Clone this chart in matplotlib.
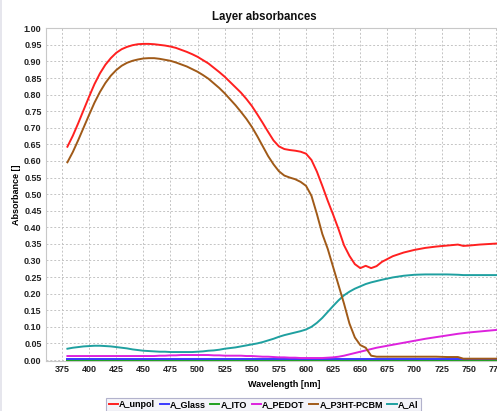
import matplotlib
matplotlib.use("Agg")
import matplotlib.pyplot as plt
from matplotlib.lines import Line2D

# Wavelength grid [nm]
wavelength = [380, 385, 390, 395, 400, 405, 410, 415, 420, 425, 430, 435, 440,
              445, 450, 455, 460, 465, 470, 475, 480, 485, 490, 495, 500, 505,
              510, 515, 520, 525, 530, 535, 540, 545, 550, 555, 560, 565, 570,
              575, 580, 585, 590, 595, 600,
              605, 610, 615, 620, 625, 630, 635, 640, 645, 650, 655, 660, 665, 670,
              680, 690, 700, 710, 720, 730, 740, 745, 750, 760, 770, 780, 790, 800]

a_unpol = [0.643, 0.676, 0.714, 0.754, 0.794, 0.832, 0.864, 0.890, 0.910, 0.926,
           0.937, 0.944, 0.949, 0.952, 0.953, 0.953, 0.952, 0.950, 0.948, 0.945,
           0.941, 0.935, 0.929, 0.922, 0.914, 0.904, 0.894, 0.881, 0.868, 0.854,
           0.838, 0.822, 0.806, 0.787, 0.766, 0.741, 0.715, 0.688, 0.662, 0.644,
           0.636, 0.633, 0.631, 0.628, 0.622,
           0.603, 0.568, 0.525, 0.480, 0.438, 0.394, 0.346, 0.314, 0.289, 0.277,
           0.284, 0.277, 0.283, 0.296,
           0.313, 0.324, 0.332, 0.338, 0.342, 0.345, 0.348, 0.344, 0.345, 0.348,
           0.350, 0.352, 0.353, 0.354]

a_glass = [0.002] * len(wavelength)

a_ito = [0.001] * len(wavelength)

a_pedot = [0.012, 0.012, 0.012, 0.012, 0.012, 0.012, 0.012, 0.012, 0.012, 0.012,
           0.012, 0.012, 0.012, 0.012, 0.012, 0.012, 0.012, 0.013, 0.013, 0.014,
           0.014, 0.015, 0.015, 0.015, 0.015, 0.015, 0.015, 0.014, 0.014, 0.013,
           0.013, 0.013, 0.013, 0.012, 0.012, 0.011, 0.010, 0.010, 0.009, 0.008,
           0.008, 0.007, 0.007, 0.006, 0.006,
           0.006, 0.006, 0.006, 0.007, 0.008, 0.010, 0.013, 0.017, 0.021, 0.025,
           0.029, 0.033, 0.037, 0.040,
           0.046, 0.052, 0.058, 0.064, 0.069, 0.074, 0.079, 0.081, 0.083, 0.086,
           0.089, 0.092, 0.094, 0.096]

a_p3ht_pcbm = [0.596, 0.627, 0.663, 0.701, 0.739, 0.776, 0.808, 0.835, 0.857, 0.874,
               0.887, 0.896, 0.902, 0.906, 0.909, 0.910, 0.910, 0.908, 0.905, 0.902,
               0.897, 0.891, 0.885, 0.877, 0.869, 0.859, 0.848, 0.834, 0.820, 0.804,
               0.786, 0.768, 0.748, 0.727, 0.703, 0.675, 0.645, 0.615, 0.590, 0.569,
               0.556, 0.550, 0.545, 0.537, 0.525,
               0.495, 0.440, 0.380, 0.335, 0.280, 0.225, 0.170, 0.110, 0.068, 0.045,
               0.037, 0.013, 0.010, 0.010,
               0.010, 0.010, 0.010, 0.010, 0.010, 0.009, 0.009, 0.004, 0.004, 0.004,
               0.004, 0.004, 0.004, 0.004]

a_al = [0.034, 0.037, 0.039, 0.041, 0.042, 0.043, 0.043, 0.042, 0.041, 0.039,
        0.037, 0.035, 0.032, 0.030, 0.028, 0.027, 0.026, 0.025, 0.025, 0.024,
        0.024, 0.024, 0.024, 0.024, 0.025, 0.026, 0.028, 0.029, 0.031, 0.034,
        0.036, 0.038, 0.041, 0.044, 0.047, 0.050, 0.054, 0.059, 0.064, 0.070,
        0.075, 0.079, 0.083, 0.087, 0.092,
        0.100, 0.112, 0.127, 0.145, 0.163, 0.180, 0.195, 0.206, 0.215, 0.222,
        0.229, 0.234, 0.238, 0.242,
        0.249, 0.254, 0.257, 0.258, 0.258, 0.258, 0.257, 0.256, 0.256, 0.256,
        0.256, 0.256, 0.256, 0.256]

series_names = ["A_unpol", "A_Glass", "A_ITO", "A_PEDOT", "A_P3HT-PCBM", "A_Al"]
series_values = [a_unpol, a_glass, a_ito, a_pedot, a_p3ht_pcbm, a_al]
series_colors = ["#ff2020", "#3a3aff", "#20a020", "#dd22dd", "#a05a18", "#1fa0a0"]
series_z = [6, 4, 3, 5, 6, 5]

x_ticks = [375, 400, 425, 450, 475, 500, 525, 550, 575, 600, 625, 650, 675,
           700, 725, 750, 775, 800]
y_ticks = [round(0.05 * i, 2) for i in range(21)]

plt.rcParams["font.family"] = ["Liberation Sans", "DejaVu Sans"]

W, H = 497, 411
fig = plt.figure(figsize=(W / 100, H / 100), dpi=100)
fig.patch.set_facecolor("white")

left, right, top, bottom = 45.7, 523.0, 28.3, 361.0
ax = fig.add_axes([left / W, 1 - bottom / H, (right - left) / W, (bottom - top) / H])

for name, vals, col, z in zip(series_names, series_values, series_colors, series_z):
    ax.plot(wavelength, vals, color=col, lw=1.4, label=name, zorder=z,
            solid_joinstyle="round")

ax.set_xlim(360, 800)
ax.set_ylim(-0.003, 1.0)
ax.set_xticks(x_ticks)
ax.set_yticks(y_ticks)
ax.set_yticklabels([f"{v:.2f}" for v in y_ticks])
ax.grid(True, color="#c4c4c4", lw=0.7, linestyle=(0, (2, 2)))
ax.set_axisbelow(True)
for sp in ax.spines.values():
    sp.set_color("#c8c8c8")
    sp.set_linewidth(0.8)
ax.tick_params(length=0, pad=3, labelsize=6.5, colors="#222222")
for lbl in ax.get_xticklabels() + ax.get_yticklabels():
    lbl.set_fontweight("bold")

ax.set_xlabel("Wavelength [nm]", fontsize=6.5, fontweight="bold", labelpad=4)
ax.set_ylabel("Absorbance []", fontsize=6.5, fontweight="bold", labelpad=2)

fig.text(264.5 / W, 1 - 17 / H, "Layer absorbances", ha="center", va="center",
         fontsize=8.3, fontweight="bold", color="#111111")

handles = [Line2D([0], [0], color=c, lw=1.4) for c in series_colors]
leg = fig.legend(handles, series_names, loc="upper center",
                 bbox_to_anchor=(263.5 / W, 1 - 397.7 / H), ncol=6,
                 prop={"size": 6.5, "weight": "bold"}, handlelength=1.0,
                 handletextpad=0.15, columnspacing=0.5, borderpad=0.25,
                 borderaxespad=0.0, frameon=True, fancybox=False)
leg.get_frame().set_edgecolor("#a0a0c0")
leg.get_frame().set_facecolor("#f2f2f8")
leg.get_frame().set_linewidth(0.8)

fig.add_artist(Line2D([0.002, 0.002], [0, 1], transform=fig.transFigure,
                      color="#e2e2ea", lw=1.2))

fig.savefig("out.png", dpi=100)
